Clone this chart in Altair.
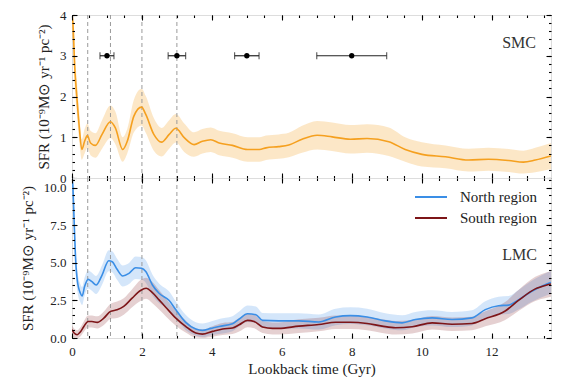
import altair as alt
import pandas as pd

FONT = "Liberation Serif"
XMAX = 13.7
ORANGE = "#f5a01f"
BLUE = "#3a8ee6"
RED = "#7d1518"
TXT = "#222222"

# ---------------- data ----------------
smc_t = [0, 0.02, 0.08, 0.14, 0.21, 0.28, 0.36, 0.44, 0.53, 0.67, 0.86, 1.10, 1.24, 1.45, 1.58, 1.77,
         1.99, 2.11, 2.34, 2.56, 2.78, 2.97, 3.21, 3.49, 3.73, 3.97, 4.21, 4.59, 5.02, 5.36, 5.55, 5.91,
         6.2, 6.58, 7.01, 7.44, 7.96, 8.44, 9.06, 9.53, 10.01, 10.68, 11.34, 11.91, 12.49, 12.91, 13.25, 13.7]
smc_sfr = [3.95, 3.86, 2.7, 1.97, 1.23, 0.70, 0.90, 1.04, 0.86, 0.80, 1.07, 1.38, 1.23, 0.70, 0.90, 1.52,
           1.74, 1.56, 1.07, 0.88, 1.07, 1.22, 0.99, 0.82, 0.90, 0.94, 0.86, 0.80, 0.70, 0.70, 0.74, 0.77,
           0.81, 0.95, 1.05, 1.01, 0.95, 0.97, 0.89, 0.70, 0.58, 0.52, 0.44, 0.46, 0.43, 0.39, 0.44, 0.54]
smc_err = [0.5, 0.5, 0.45, 0.4, 0.35, 0.25, 0.3, 0.3, 0.3, 0.3, 0.35, 0.4, 0.4, 0.3, 0.3, 0.4,
           0.45, 0.45, 0.4, 0.35, 0.35, 0.35, 0.35, 0.3, 0.3, 0.3, 0.3, 0.3, 0.3, 0.3, 0.3, 0.3,
           0.3, 0.33, 0.35, 0.35, 0.35, 0.35, 0.35, 0.3, 0.3, 0.28, 0.28, 0.28, 0.28, 0.28, 0.3, 0.32]

north_t = [0, 0.02, 0.06, 0.1, 0.15, 0.24, 0.29, 0.36, 0.46, 0.57, 0.69, 0.86, 1.05, 1.15, 1.29, 1.45,
           1.63, 1.82, 1.99, 2.11, 2.30, 2.49, 2.78, 2.97, 3.25, 3.54, 3.73, 3.97, 4.21, 4.59, 4.78, 5.02,
           5.26, 5.45, 5.91, 6.49, 7.06, 7.54, 7.96, 8.44, 8.96, 9.44, 9.82, 10.3, 10.87, 11.44, 11.82,
           12.2, 12.49, 12.77, 13.15, 13.58, 13.7]
north_sfr = [10.5, 10.26, 7.84, 5.4, 3.86, 2.98, 2.8, 3.42, 3.9, 3.75, 3.53, 4.19, 5.14, 5.08, 4.57, 4.13,
             4.3, 4.68, 4.64, 4.42, 3.53, 2.98, 2.49, 1.88, 1.04, 0.6, 0.51, 0.64, 0.77, 0.95, 1.26, 1.61,
             1.55, 1.17, 1.14, 1.14, 1.07, 1.40, 1.49, 1.40, 1.14, 1.01, 1.23, 1.34, 1.23, 1.34, 1.89,
             2.15, 2.19, 2.54, 3.11, 3.6, 3.7]
north_err = [1.0, 1.0, 0.9, 0.8, 0.7, 0.6, 0.6, 0.6, 0.6, 0.6, 0.6, 0.65, 0.7, 0.7, 0.7, 0.7,
             0.7, 0.75, 0.75, 0.75, 0.7, 0.65, 0.6, 0.55, 0.5, 0.45, 0.45, 0.45, 0.5, 0.5, 0.5, 0.55,
             0.55, 0.5, 0.5, 0.5, 0.5, 0.55, 0.55, 0.55, 0.5, 0.5, 0.5, 0.5, 0.5, 0.5, 0.55,
             0.6, 0.6, 0.65, 0.7, 0.75, 0.75]

south_t = [0, 0.06, 0.15, 0.23, 0.34, 0.46, 0.57, 0.72, 0.91, 1.1, 1.29, 1.48, 1.72, 1.96, 2.12, 2.30,
           2.49, 2.68, 2.97, 3.25, 3.54, 3.73, 4.02, 4.31, 4.59, 4.78, 5.02, 5.21, 5.45, 5.74, 5.91, 6.49,
           7.06, 7.54, 7.96, 8.44, 8.87, 9.25, 9.73, 10.3, 10.87, 11.44, 11.82, 12.39, 12.77, 13.25, 13.58, 13.7]
south_sfr = [0.55, 0.33, 0.22, 0.38, 0.77, 1.1, 1.1, 1.04, 1.32, 1.77, 1.88, 2.1, 2.65, 3.16, 3.31, 3.02,
             2.54, 2.05, 1.32, 0.77, 0.33, 0.26, 0.44, 0.6, 0.66, 0.88, 1.17, 1.1, 0.73, 0.64, 0.64, 0.79,
             0.9, 1.05, 1.05, 0.97, 0.79, 0.68, 0.75, 1.01, 0.92, 0.97, 1.28, 1.8, 2.5, 3.27, 3.53, 3.6]
south_err = [0.3, 0.3, 0.3, 0.3, 0.35, 0.4, 0.4, 0.4, 0.45, 0.5, 0.55, 0.55, 0.6, 0.7, 0.7, 0.7,
             0.65, 0.6, 0.5, 0.4, 0.3, 0.3, 0.35, 0.4, 0.4, 0.45, 0.45, 0.45, 0.4, 0.4, 0.4, 0.45,
             0.45, 0.45, 0.45, 0.45, 0.45, 0.45, 0.45, 0.45, 0.45, 0.45, 0.5, 0.6, 0.7, 0.8, 0.85, 0.85]

vlines = [0.45, 1.1, 2.0, 3.0]

ep_t = [1.0, 3.0, 5.0, 8.0]
ep_err = [0.2, 0.25, 0.35, 1.0]
ep_y = [3.0, 3.0, 3.0, 3.0]

X_MAJ = [0, 2, 4, 6, 8, 10, 12]
X_MIN = [0.5 * i for i in range(28)]
SMC_Y_MAJ = [0, 1, 2, 3, 4]
SMC_Y_MIN = [0.2 * i for i in range(21)]
LMC_Y_MAJ = [0, 2.5, 5, 7.5, 10]
LMC_Y_MIN = [0.5 * i for i in range(22)]

YTITLE = "SFR (10\u207b\u2079M\u2299 yr\u207b\u00b9 pc\u207b\u00b2)"
TOP_H = 163
BOT_H = 160


# ---------------- tables ----------------
def band_df(t, v, e):
    return pd.DataFrame({"t": t, "v": v,
                         "lo": [max(a - b, 0.0) for a, b in zip(v, e)],
                         "hi": [a + b for a, b in zip(v, e)]})


smc = band_df(smc_t, smc_sfr, smc_err)
north = band_df(north_t, north_sfr, north_err)
north["region"] = "North region"
south = band_df(south_t, south_sfr, south_err)
south["region"] = "South region"
lmc = pd.concat([north, south], ignore_index=True)

vl = pd.DataFrame({"x": vlines})
ep = pd.DataFrame({"t": ep_t, "y": ep_y,
                   "lo": [a - b for a, b in zip(ep_t, ep_err)],
                   "hi": [a + b for a, b in zip(ep_t, ep_err)]})
caps = pd.DataFrame({"t": list(ep["lo"]) + list(ep["hi"]), "y": ep_y + ep_y})

xs = alt.Scale(domain=[0, XMAX], nice=False, zero=False)


def tick_axes(src, yfield, ys, ymaj, ymin, yfmt, xlabels):
    layers = []
    specs = [("bottom", "left", X_MAJ, ymaj, 5, True),
             ("bottom", "left", X_MIN, ymin, 2.5, False),
             ("top", "right", X_MAJ, ymaj, 5, False),
             ("top", "right", X_MIN, ymin, 2.5, False)]
    for xo, yo, xv, yv, sz, main in specs:
        common = dict(tickSize=sz, offset=-sz, domain=False, grid=False, ticks=True,
                      tickColor="black", tickWidth=1.1, zindex=3, labels=False, title=None)
        xkw = dict(common, orient=xo, values=xv)
        ykw = dict(common, orient=yo, values=yv)
        if main:
            ykw.update(labels=True, format=yfmt, labelFont=FONT, labelFontSize=13,
                       labelColor=TXT, labelPadding=6, title=YTITLE, titleFont=FONT,
                       titleFontSize=15, titleFontWeight="normal", titleColor=TXT,
                       titlePadding=8)
            if xlabels:
                xkw.update(labels=True, format="d", labelFlush=False, labelFont=FONT,
                           labelFontSize=13, labelColor=TXT, labelPadding=7,
                           title="Lookback time (Gyr)", titleFont=FONT, titleFontSize=15,
                           titleFontWeight="normal", titleColor=TXT, titlePadding=3)
        layers.append(
            alt.Chart(src).mark_point(opacity=0).encode(
                x=alt.X("t:Q", scale=xs, axis=alt.Axis(**xkw)),
                y=alt.Y(f"{yfield}:Q", scale=ys, axis=alt.Axis(**ykw)),
            )
        )
    return layers


def vrules():
    return alt.Chart(vl).mark_rule(color="#9a9a9a", strokeDash=[4, 3], strokeWidth=1).encode(
        x=alt.X("x:Q", scale=xs, axis=None),
    )


# ---------------- SMC panel ----------------
ys_smc = alt.Scale(domain=[0, 4], nice=False, zero=False)

smc_band = alt.Chart(smc).mark_area(color=ORANGE, opacity=0.25, clip=True, interpolate="monotone").encode(
    x=alt.X("t:Q", scale=xs, axis=None),
    y=alt.Y("lo:Q", scale=ys_smc, axis=None),
    y2="hi:Q",
)
smc_line = alt.Chart(smc).mark_line(color=ORANGE, strokeWidth=1.6, clip=True, interpolate="monotone").encode(
    x=alt.X("t:Q", scale=xs, axis=None),
    y=alt.Y("v:Q", scale=ys_smc, axis=None),
)
eb_rule = alt.Chart(ep).mark_rule(color="#222", strokeWidth=1.2).encode(
    x=alt.X("lo:Q", scale=xs, axis=None), x2="hi:Q",
    y=alt.Y("y:Q", scale=ys_smc, axis=None),
)
eb_caps = alt.Chart(caps).mark_tick(color="#222", orient="vertical", size=7, thickness=1.2).encode(
    x=alt.X("t:Q", scale=xs, axis=None),
    y=alt.Y("y:Q", scale=ys_smc, axis=None),
)
eb_pts = alt.Chart(ep).mark_circle(color="black", size=28, opacity=1).encode(
    x=alt.X("t:Q", scale=xs, axis=None),
    y=alt.Y("y:Q", scale=ys_smc, axis=None),
)
smc_lbl = alt.Chart(pd.DataFrame({"label": ["SMC"]})).mark_text(
    align="right", baseline="middle", font=FONT, fontSize=16, color="#333"
).encode(text="label:N", x=alt.value(464), y=alt.value(28))

top = alt.layer(
    smc_band, vrules(), smc_line, eb_rule, eb_caps, eb_pts, smc_lbl,
    *tick_axes(smc, "v", ys_smc, SMC_Y_MAJ, SMC_Y_MIN, "d", False)
).resolve_axis(x="independent", y="independent").properties(width=479, height=TOP_H)

# ---------------- LMC panel ----------------
ys_lmc = alt.Scale(domain=[0, 10.65], nice=False, zero=False)

n_band = alt.Chart(north).mark_area(color=BLUE, opacity=0.22, clip=True, interpolate="monotone").encode(
    x=alt.X("t:Q", scale=xs, axis=None),
    y=alt.Y("lo:Q", scale=ys_lmc, axis=None),
    y2="hi:Q",
)
s_band = alt.Chart(south).mark_area(color=RED, opacity=0.2, clip=True, interpolate="monotone").encode(
    x=alt.X("t:Q", scale=xs, axis=None),
    y=alt.Y("lo:Q", scale=ys_lmc, axis=None),
    y2="hi:Q",
)
lmc_lines = alt.Chart(lmc).mark_line(strokeWidth=1.6, clip=True, interpolate="monotone").encode(
    x=alt.X("t:Q", scale=xs, axis=None),
    y=alt.Y("v:Q", scale=ys_lmc, axis=None),
    color=alt.Color(
        "region:N",
        scale=alt.Scale(domain=["North region", "South region"], range=[BLUE, RED]),
        legend=alt.Legend(title=None, orient="none", legendX=348, legendY=TOP_H + 8, padding=0,
                          symbolType="M-1.6,0H1.6", symbolSize=400, symbolStrokeWidth=2,
                          labelFont=FONT, labelFontSize=15, labelColor=TXT,
                          rowPadding=2, labelOffset=18),
    ),
)
lmc_lbl = alt.Chart(pd.DataFrame({"label": ["LMC"]})).mark_text(
    align="right", baseline="middle", font=FONT, fontSize=16, color="#333"
).encode(text="label:N", x=alt.value(465), y=alt.value(77))

bottom = alt.layer(
    n_band, s_band, vrules(), lmc_lines, lmc_lbl,
    *tick_axes(north, "v", ys_lmc, LMC_Y_MAJ, LMC_Y_MIN, ".1f", True)
).resolve_axis(x="independent", y="independent").properties(width=479, height=BOT_H)

chart = alt.vconcat(top, bottom, spacing=0, bounds="flush").properties(
    padding={"left": 11, "top": 0, "right": 5, "bottom": 0}
).configure_view(stroke="black", strokeWidth=1.5).configure(background="white")

chart.save("out.html", embed_options={"renderer": "svg", "actions": False})
